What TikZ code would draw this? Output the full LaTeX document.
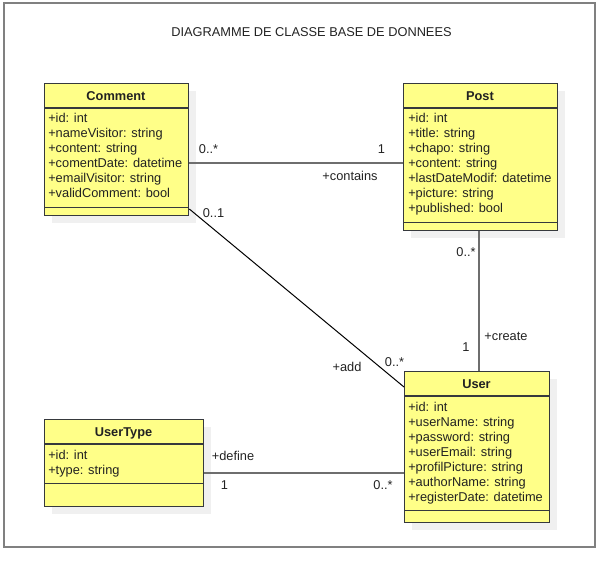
\documentclass[tikz,border=0pt]{standalone}
\usepackage{fontspec}
\setmainfont{Liberation Sans}
\usetikzlibrary{calc}
\usetikzlibrary{shadows}

\definecolor{classfill}{HTML}{FFFF88}
\definecolor{classdraw}{HTML}{36393D}
\definecolor{framegray}{HTML}{808080}
\definecolor{linegray}{HTML}{6E6E6E}
\definecolor{textgray}{HTML}{222222}

\begin{document}
\begin{tikzpicture}[x=0.75pt, y=-0.75pt,
        class_style/.style={draw=classdraw, fill=classfill, line width=1pt, anchor=north west, inner sep=0pt,
            drop shadow={shadow xshift=5.25pt, shadow yshift=-5.25pt, fill=black!6, opacity=1}},
        divider_style/.style={draw=classdraw, line width=1pt},
        title_style/.style={anchor=base, inner sep=0pt, text=textgray, font=\fontsize{9.6}{11.25}\selectfont\bfseries},
        attr_style/.style={anchor=north west, align=left, inner sep=0pt, text=textgray, font=\fontsize{9.6}{11.25}\selectfont},
        label_style/.style={anchor=base, inner sep=0pt, text=textgray, font=\fontsize{9.6}{11.25}\selectfont},
        assoc_style/.style={draw=linegray, line width=1.3pt},
        link_style/.style={draw=black, line width=0.75pt},
        frame_style/.style={draw=framegray, line width=1.5pt}]

        \useasboundingbox (0,0) rectangle (600,569);

        \draw [frame_style] (4,3) rectangle (595,547);

        \node [label_style](n_title) at (311.5,36) {DIAGRAMME DE CLASSE BASE DE DONNEES};

        % classes
        \node [class_style, minimum width=108pt, minimum height=99pt](n_comment) at (44,83) {};
        \draw [divider_style] ($(n_comment.north west)+(0,25)$) -- ($(n_comment.north east)+(0,25)$);
        \draw [divider_style] ($(n_comment.south west)+(0,-9)$) -- ($(n_comment.south east)+(0,-9)$);
        \node [title_style](n_comment_title) at (116,100) {Comment};
        \node [attr_style](n_comment_attr) at (48,112) {\strut+id: int\\+nameVisitor: string\\+content: string\\+comentDate: datetime\\+emailVisitor: string\\+validComment: bool};

        \node [class_style, minimum width=115.5pt, minimum height=110.25pt](n_post) at (403,83) {};
        \draw [divider_style] ($(n_post.north west)+(0,25)$) -- ($(n_post.north east)+(0,25)$);
        \draw [divider_style] ($(n_post.south west)+(0,-9)$) -- ($(n_post.south east)+(0,-9)$);
        \node [title_style](n_post_title) at (480,100) {Post};
        \node [attr_style](n_post_attr) at (408,112) {\strut+id: int\\+title: string\\+chapo: string\\+content: string\\+lastDateModif: datetime\\+picture: string\\+published: bool};

        \node [class_style, minimum width=108.75pt, minimum height=113.25pt](n_user) at (404,371) {};
        \draw [divider_style] ($(n_user.north west)+(0,25)$) -- ($(n_user.north east)+(0,25)$);
        \draw [divider_style] ($(n_user.south west)+(0,-13)$) -- ($(n_user.south east)+(0,-13)$);
        \node [title_style](n_user_title) at (476.5,388) {User};
        \node [attr_style](n_user_attr) at (408,400.8) {\strut+id: int\\+userName: string\\+password: string\\+userEmail: string\\+profilPicture: string\\+authorName: string\\+registerDate: datetime};

        \node [class_style, minimum width=119.25pt, minimum height=65.25pt](n_usertype) at (44,419) {};
        \draw [divider_style] ($(n_usertype.north west)+(0,25)$) -- ($(n_usertype.north east)+(0,25)$);
        \draw [divider_style] ($(n_usertype.south west)+(0,-24)$) -- ($(n_usertype.south east)+(0,-24)$);
        \node [title_style](n_usertype_title) at (123.5,436.5) {UserType};
        \node [attr_style](n_usertype_attr) at (48,448.4) {\strut+id: int\\+type: string};

        % associations
        \draw [assoc_style] (n_comment.east |- 0,163) -- (n_post.west |- 0,163);
        \node [label_style](n_contains_from) at (208.5,153) {0..*};
        \node [label_style](n_contains_to) at (381.5,153) {1};
        \node [label_style](n_contains) at (350,180) {+contains};

        \draw [link_style] (n_comment.east |- 0,209) -- (n_user.west |- 0,387);
        \node [label_style](n_add_from) at (213.5,217) {0..1};
        \node [label_style](n_add_to) at (394.5,366) {0..*};
        \node [label_style](n_add) at (347,371.7) {+add};

        \draw [assoc_style] (n_post.south -| 479,0) -- (n_user.north -| 479,0);
        \node [label_style](n_create_from) at (466,256) {0..*};
        \node [label_style](n_create_to) at (466,351.7) {1};
        \node [label_style](n_create) at (506,340) {+create};

        \draw [assoc_style] (n_usertype.east |- 0,473) -- (n_user.west |- 0,473);
        \node [label_style](n_define_from) at (224.5,489) {1};
        \node [label_style](n_define_to) at (383,489) {0..*};
        \node [label_style](n_define) at (233,460) {+define};

        \end{tikzpicture}
\end{document}
